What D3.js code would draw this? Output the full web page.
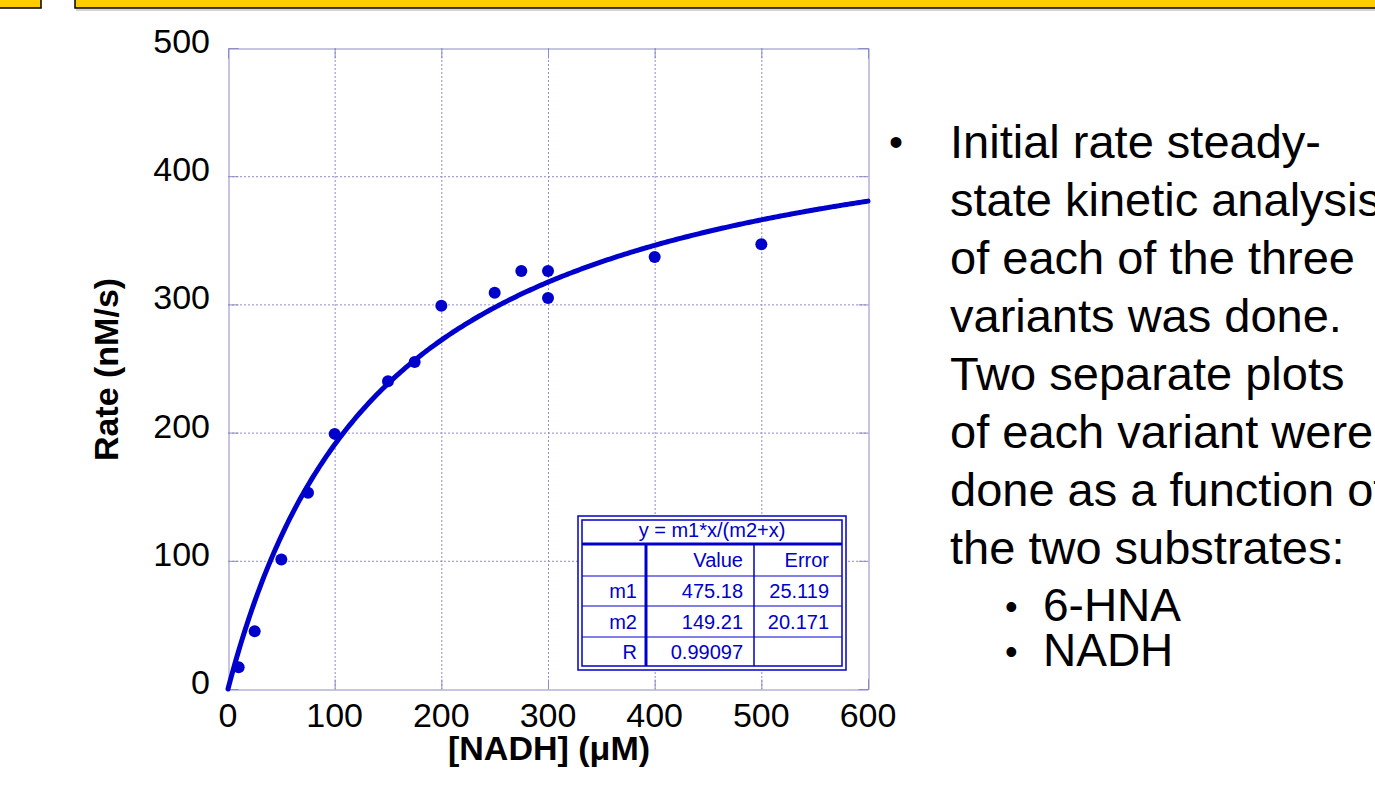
<!DOCTYPE html>
<html>
<head>
<meta charset="utf-8">
<script src="https://cdn.jsdelivr.net/npm/d3@7/dist/d3.min.js"></script>
<style>
  html, body { margin: 0; padding: 0; background: #fff; }
  svg text { font-family: Arial, "Liberation Sans", sans-serif; }
</style>
</head>
<body>
<svg id="chart" width="1375" height="789"></svg>
<script>
// substrate concentration (uM) and measured initial rate (nM/s)
const nadh = [10, 25, 50, 75, 100, 150, 175, 200, 250, 275, 300, 300, 400, 500];
const rate = [17, 45, 101, 153, 199, 240, 255, 299, 309, 326, 326, 305, 337, 347];

// fit y = m1*x/(m2+x)
const m1 = 475.18, m2 = 149.21;
const fitLabel = "y = m1*x/(m2+x)";
const fitRows = [
  ["", "Value", "Error"],
  ["m1", "475.18", "25.119"],
  ["m2", "149.21", "20.171"],
  ["R", "0.99097", ""]
];

const xTicks = [0, 100, 200, 300, 400, 500, 600];
const yTicks = [0, 100, 200, 300, 400, 500];

const bulletLines = [
  "Initial rate steady-",
  "state kinetic analysis",
  "of each of the three",
  "variants was done.",
  "Two separate plots",
  "of each variant were",
  "done as a function of",
  "the two substrates:"
];
const subBullets = ["6-HNA", "NADH"];

const blue = "#0000cc";
const gridCol = "#8c8cc8";

const svg = d3.select("#chart");

// banner at the top
svg.append("rect").attr("x", -2).attr("y", -2).attr("width", 43).attr("height", 10)
  .attr("fill", "#ffcc00").attr("stroke", "#000").attr("stroke-width", 1.5);
svg.append("rect").attr("x", 75).attr("y", -2).attr("width", 1310).attr("height", 10)
  .attr("fill", "#ffcc00").attr("stroke", "#000").attr("stroke-width", 1.5);
svg.append("line").attr("x1", 76).attr("x2", 1375).attr("y1", 10).attr("y2", 10)
  .attr("stroke", "#aaa").attr("stroke-width", 1);

const x = d3.scaleLinear().domain([0, 600]).range([228, 868]);
const y = d3.scaleLinear().domain([0, 500]).range([689, 48]);

const plot = svg.append("g");

// dotted grid
plot.selectAll(".gx").data(xTicks.slice(1, -1)).join("line")
  .attr("x1", d => x(d) + 0.5).attr("x2", d => x(d) + 0.5)
  .attr("y1", y(500)).attr("y2", y(0))
  .attr("stroke", gridCol).attr("stroke-width", 1).attr("stroke-dasharray", "2,2");
plot.selectAll(".gy").data(yTicks.slice(1, -1)).join("line")
  .attr("y1", d => y(d) + 0.5).attr("y2", d => y(d) + 0.5)
  .attr("x1", x(0)).attr("x2", x(600))
  .attr("stroke", gridCol).attr("stroke-width", 1).attr("stroke-dasharray", "2,2");

// inward ticks on all four sides
const tl = 10;
plot.append("g").attr("transform", `translate(0,${y(0) + 0.5})`)
  .call(d3.axisTop(x).tickValues(xTicks).tickSize(tl).tickFormat(""))
  .call(g => g.selectAll("line,path").attr("stroke", gridCol));
plot.append("g").attr("transform", `translate(0,${y(500) + 0.5})`)
  .call(d3.axisBottom(x).tickValues(xTicks).tickSize(tl).tickFormat(""))
  .call(g => g.selectAll("line,path").attr("stroke", gridCol));
plot.append("g").attr("transform", `translate(${x(0) + 0.5},0)`)
  .call(d3.axisRight(y).tickValues(yTicks).tickSize(tl).tickFormat(""))
  .call(g => g.selectAll("line,path").attr("stroke", gridCol));
plot.append("g").attr("transform", `translate(${x(600) + 0.5},0)`)
  .call(d3.axisLeft(y).tickValues(yTicks).tickSize(tl).tickFormat(""))
  .call(g => g.selectAll("line,path").attr("stroke", gridCol));

// tick labels
plot.selectAll(".xl").data(xTicks).join("text")
  .attr("x", d => x(d)).attr("y", y(0) + 38)
  .attr("text-anchor", "middle").attr("font-size", 34).attr("fill", "#000")
  .text(d => d);
plot.selectAll(".yl").data(yTicks).join("text")
  .attr("x", x(0) - 18).attr("y", d => y(d) + 5)
  .attr("text-anchor", "end").attr("font-size", 34).attr("fill", "#000")
  .text(d => d);

// axis titles
svg.append("text")
  .attr("transform", `translate(118,${(y(0) + y(500)) / 2 + 1}) rotate(-90)`)
  .attr("text-anchor", "middle").attr("font-size", 34).attr("font-weight", "bold")
  .text("Rate (nM/s)");
svg.append("text")
  .attr("x", (x(0) + x(600)) / 2 + 1).attr("y", 760)
  .attr("text-anchor", "middle").attr("font-size", 34).attr("font-weight", "bold")
  .text("[NADH] (\u03bcM)");

// fitted curve
const fitX = d3.range(0, 601, 2);
const line = d3.line().x(d => x(d)).y(d => y(m1 * d / (m2 + d)));
plot.append("path").datum(fitX)
  .attr("d", line).attr("fill", "none")
  .attr("stroke", blue).attr("stroke-width", 5).attr("stroke-linecap", "round");

// data points
plot.selectAll(".pt").data(nadh).join("circle")
  .attr("cx", d => x(d)).attr("cy", (d, i) => y(rate[i]))
  .attr("r", 6).attr("fill", blue);

// fit results box
const tb = svg.append("g").attr("fill", blue);
const tx0 = 578, tx1 = 846, ty0 = 516, ty1 = 670;
const colX = [582, 646, 754, 842];
const rowY = [544, 576, 606, 637, 666];
const pad = [9, 11, 13];
tb.append("rect").attr("x", tx0).attr("y", ty0).attr("width", tx1 - tx0).attr("height", ty1 - ty0)
  .attr("fill", "#fff").attr("stroke", blue).attr("stroke-width", 1.5);
tb.append("rect").attr("x", colX[0]).attr("y", ty0 + 4).attr("width", colX[3] - colX[0]).attr("height", rowY[4] - ty0 - 4)
  .attr("fill", "none").attr("stroke", blue).attr("stroke-width", 1.5);
tb.append("line").attr("x1", colX[0]).attr("x2", colX[3]).attr("y1", rowY[0]).attr("y2", rowY[0])
  .attr("stroke", blue).attr("stroke-width", 3);
tb.selectAll(".rl").data(rowY.slice(1, 4)).join("line")
  .attr("x1", colX[0]).attr("x2", colX[3]).attr("y1", d => d).attr("y2", d => d)
  .attr("stroke", blue).attr("stroke-width", 1);
tb.append("line").attr("x1", colX[1]).attr("x2", colX[1]).attr("y1", rowY[0]).attr("y2", rowY[4])
  .attr("stroke", blue).attr("stroke-width", 3);
tb.append("line").attr("x1", colX[2]).attr("x2", colX[2]).attr("y1", rowY[0]).attr("y2", rowY[4])
  .attr("stroke", blue).attr("stroke-width", 1.5);
tb.append("text").attr("x", (colX[0] + colX[3]) / 2).attr("y", (ty0 + rowY[0]) / 2 + 7)
  .attr("text-anchor", "middle").attr("font-size", 20).text(fitLabel);
fitRows.forEach((row, r) => {
  row.forEach((cell, c) => {
    tb.append("text")
      .attr("x", colX[c + 1] - pad[c])
      .attr("y", (rowY[r] + rowY[r + 1]) / 2 + 7)
      .attr("text-anchor", "end").attr("font-size", 20)
      .text(cell);
  });
});

// bullet text on the right
const bt = svg.append("g").attr("fill", "#000");
const lh = 58;
bulletLines.forEach((s, i) => {
  bt.append("text").attr("x", 950).attr("y", 158 + i * lh)
    .attr("font-size", 47).text(s);
});
bt.append("text").attr("x", 889).attr("y", 156).attr("font-size", 40).text("\u2022");
subBullets.forEach((s, i) => {
  const yy = 158 + (bulletLines.length - 1) * lh + 57 + i * 45;
  bt.append("text").attr("x", 1005).attr("y", yy - 2).attr("font-size", 36).text("\u2022");
  bt.append("text").attr("x", 1043).attr("y", yy).attr("font-size", 46).text(s);
});
</script>
</body>
</html>
